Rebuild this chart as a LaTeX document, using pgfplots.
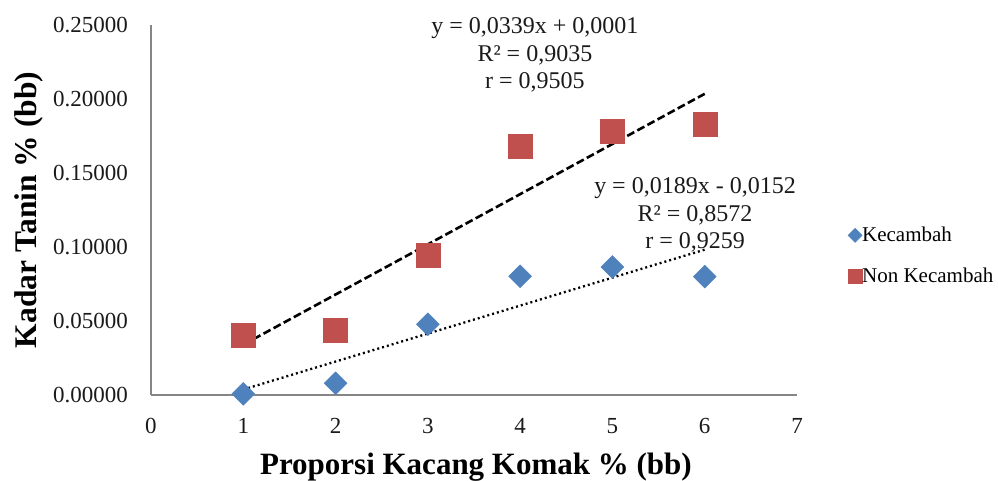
\documentclass[border=0pt]{standalone}
\usepackage{fontspec}
\setmainfont{Liberation Serif}
\usepackage{pgfplots}
\pgfplotsset{compat=1.18}
\definecolor{kblue}{HTML}{4F81BD}
\definecolor{kred}{HTML}{C0504D}
\definecolor{axgray}{HTML}{868686}
\definecolor{txt}{HTML}{1A1A1A}
\pgfplotsset{
  legdiam/.style={legend image code/.code={\draw[##1, mark size=5pt] plot coordinates {(0pt,0pt)};}},
  legsq/.style={legend image code/.code={\draw[##1, mark size=7pt] plot coordinates {(0pt,0pt)};}},
}
\begin{document}
\begin{tikzpicture}
\begin{axis}[name=ax,
  scale only axis, width=646pt, height=370pt,
  xmin=0, xmax=7, ymin=0, ymax=0.25,
  xtick={0,1,2,3,4,5,6,7},
  ytick={0,0.05,0.1,0.15,0.2,0.25},
  axis lines*=left,
  axis line style={axgray, line width=1.6pt},
  major tick length=0pt,
  clip=false,
  scaled y ticks=false,
  /pgf/number format/assume math mode=true,
  y tick label style={/pgf/number format/fixed, /pgf/number format/fixed zerofill, /pgf/number format/precision=5, font=\fontsize{23}{27}\selectfont, inner sep=0pt, xshift=-23pt, text=txt},
  x tick label style={font=\fontsize{23}{27}\selectfont, inner sep=0pt, yshift=-23pt, text=txt},
  xlabel={Proporsi Kacang Komak \% (bb)},
  xlabel style={at={(axis description cs:0.503,-0.216)}, anchor=base, font=\fontsize{31}{36}\selectfont\bfseries, inner sep=0pt},
  ylabel={Kadar Tanin \% (bb)},
  ylabel style={at={(axis description cs:-0.1765,0.5)}, anchor=base, font=\fontsize{31.5}{36}\selectfont\bfseries, inner sep=0pt},
  legend style={draw=none, fill=none, at={(axis description cs:1.074,0.376)}, anchor=west,
    font=\fontsize{21}{25}\selectfont, row sep=25pt, nodes={inner sep=0pt}},
  legend cell align=left,
  /tikz/every even column/.style={column sep=3pt},
]
\addplot[only marks, mark=square*, mark size=8.1pt, color=kblue, mark options={rotate=45, draw=kblue, fill=kblue}, legdiam]
  coordinates {(1,0.0008) (2,0.0079) (3,0.0478) (4,0.0802) (5,0.0865) (6,0.0800)};
\addlegendentry{Kecambah}
\addplot[only marks, mark=square*, mark size=12pt, color=kred, mark options={draw=kred, fill=kred}, legsq]
  coordinates {(1,0.0402) (2,0.0439) (3,0.0947) (4,0.1678) (5,0.1780) (6,0.1830)};
\addlegendentry{Non Kecambah}
\addplot[black, line width=2.6pt, dash pattern=on 8pt off 3.5pt, forget plot] coordinates {(1,0.0340) (6,0.2035)};
\addplot[black, line width=2.3pt, dash pattern=on 2pt off 3pt, forget plot] coordinates {(1,0.0037) (6,0.0982)};
\node[align=center, anchor=north, inner sep=0pt, font=\fontsize{24}{27.5}\selectfont, text=txt] at (axis cs:4.16,0.2551)
  {y = 0,0339x + 0,0001\\R² = 0,9035\\r = 0,9505};
\node[align=center, anchor=north, inner sep=0pt, font=\fontsize{24}{27.5}\selectfont, text=txt] at (axis cs:5.895,0.147)
  {y = 0,0189x - 0,0152\\R² = 0,8572\\r = 0,9259};
\end{axis}
\pgfresetboundingbox
\path (ax.south west) ++(-151pt,-86pt) rectangle ++(998pt,481pt);
\end{tikzpicture}
\end{document}
